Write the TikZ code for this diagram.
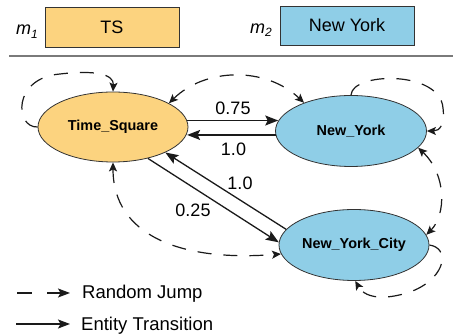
\documentclass[tikz,border=0pt]{standalone}
\usepackage{fontspec}
\setmainfont{Liberation Sans}
\usetikzlibrary{shapes.geometric,arrows.meta}

\definecolor{tsfill}{HTML}{FCD37F}
\definecolor{nyfill}{HTML}{8FCEE7}
\definecolor{ink}{HTML}{1A1A1A}
\definecolor{rule}{HTML}{7A7A7A}

\newcommand{\mvar}[1]{{\itshape m}\raisebox{-3.5pt}{\fontsize{12}{12}\selectfont\itshape #1}}

\begin{document}
\begin{tikzpicture}[x=1pt,y=-1pt,
  state/.style={ellipse, draw=black!80, line width=0.8pt, minimum width=150pt,
    minimum height=70pt, inner sep=0pt, font=\fontsize{14.4}{16}\selectfont\bfseries},
  valbox/.style={rectangle, draw=black!80, line width=0.8pt, minimum width=134pt,
    minimum height=40pt, font=\fontsize{18}{20}\selectfont},
  trans/.style={draw=ink, line width=1.3pt, -{Stealth[length=13pt,width=10pt,inset=2.5pt]}},
  rjtip/.style={Stealth[length=9pt,width=8pt,inset=2pt]},
  rj/.style={draw=ink, line width=1.2pt, dash pattern=on 14pt off 12pt, -{Stealth[length=9pt,width=8pt,inset=2pt]}},
  rjboth/.style={rj, {Stealth[length=9pt,width=8pt,inset=2pt]}-{Stealth[length=9pt,width=8pt,inset=2pt]}},
  wlabel/.style={font=\fontsize{18}{20}\selectfont, inner sep=0pt, anchor=base},
  legtext/.style={font=\fontsize{18.5}{20}\selectfont, inner sep=0pt, anchor=base west},
]
\useasboundingbox (0,0) rectangle (453,336);

% header: variable bindings
\node[anchor=base west, inner sep=0pt, font=\fontsize{18}{20}\selectfont] (m1) at (16,35) {\mvar{1}};
\node[valbox, fill=tsfill] (boxts) at (112,27) {TS};
\node[anchor=base west, inner sep=0pt, font=\fontsize{18}{20}\selectfont] (m2) at (250,33.5) {\mvar{2}};
\node[valbox, fill=nyfill, minimum height=39pt] (boxny) at (347,25.5) {New York};
\coordinate (ruleL) at (9,56);
\coordinate (ruleR) at (453,56);
\draw[rule, line width=1.2pt] (ruleL) -- (ruleR);

% entity states
\node[state, fill=tsfill] (ts) at (113,127) {Time\_Square};
\node[state, fill=nyfill, minimum width=151pt, minimum height=71pt] (ny) at (351,131) {New\_York};
\node[state, fill=nyfill, minimum height=71pt] (nyc) at (354,245) {New\_York\_City};

% entity transitions
\draw[trans] (ts.5) -- (ts.5 -| ny.172);
\draw[trans] (ny.183) -- (ny.183 -| ts.-5);
\draw[trans] (ts.-42) -- (nyc.178);
\draw[trans] (nyc.167) -- (ts.-26);
\node[wlabel] (p1) at (233,115) {0.75};
\node[wlabel] (p2) at (233.5,155.5) {1.0};
\node[wlabel] (p3) at (240,190) {1.0};
\node[wlabel] (p4) at (193,217) {0.25};

% random jumps
\draw[rj] (ts.180) .. controls (15,128) and (12,78) .. (60,74)
  .. controls (95,70) and (114,74) .. (ts.90);
\draw[rjboth] (ts.23) .. controls (205,68) and (265,66) .. (ny.149);
\draw[rj] (ny.90) .. controls (352,72) and (440,70) .. (443,108)
  .. controls (445,124) and (440,131) .. (ny.0);
\draw[rjboth] (ny.-14) .. controls (447,175) and (446,215) .. (nyc.8);
\draw[rj] (nyc.0) .. controls (450,248) and (446,276) .. (415,290)
  .. controls (390,300) and (366,300) .. (nyc.-88);
\draw[rjboth] (ts.270) .. controls (113,235) and (180,262) .. (nyc.187);

% legend
\coordinate (lg1a) at (17,293);
\coordinate (lg1b) at (70,293);
\coordinate (lg2a) at (16,324);
\coordinate (lg2b) at (70,324);
\draw[draw=ink, line width=1.2pt, dash pattern=on 15pt off 15pt,
  -{Stealth[length=12pt,width=9pt,inset=2.5pt]}] (lg1a) -- (lg1b);
\draw[draw=ink, line width=1.2pt, -{Stealth[length=12pt,width=9pt,inset=2.5pt]}] (lg2a) -- (lg2b);
\node[legtext] (lgt1) at (82,299) {Random Jump};
\node[legtext] (lgt2) at (81,330.5) {Entity Transition};
\end{tikzpicture}
\end{document}
